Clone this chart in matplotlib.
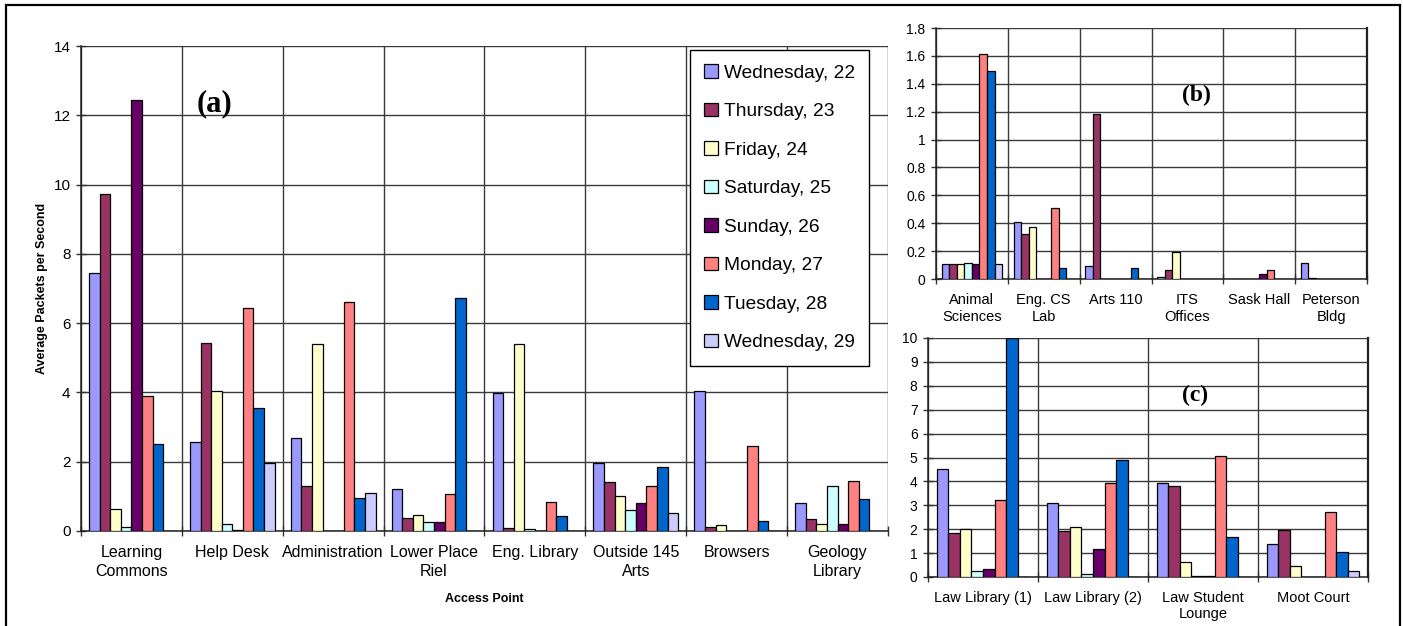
import matplotlib
matplotlib.use("Agg")
import numpy as np
from matplotlib import pyplot as plt
from matplotlib.patches import Patch, Rectangle

# Series (one per day)
days = ["Wednesday, 22", "Thursday, 23", "Friday, 24", "Saturday, 25",
        "Sunday, 26", "Monday, 27", "Tuesday, 28", "Wednesday, 29"]
day_colors = ["#9999FF", "#993366", "#FFFFCC", "#CCFFFF",
              "#660066", "#FF8080", "#0066CC", "#CCCCFF"]

# Panel (a)
cats_a = ["Learning\nCommons", "Help Desk", "Administration", "Lower Place\nRiel",
          "Eng. Library", "Outside 145\nArts", "Browsers", "Geology\nLibrary"]
wed22_a = [7.44, 2.58, 2.68, 1.20, 3.99, 1.95, 4.04, 0.82]
thu23_a = [9.72, 5.44, 1.30, 0.37, 0.08, 1.42, 0.12, 0.34]
fri24_a = [0.63, 4.04, 5.39, 0.46, 5.39, 1.02, 0.17, 0.19]
sat25_a = [0.11, 0.19, 0.00, 0.25, 0.06, 0.61, 0.00, 1.29]
sun26_a = [12.45, 0.02, 0.00, 0.25, 0.00, 0.80, 0.00, 0.19]
mon27_a = [3.91, 6.43, 6.60, 1.07, 0.85, 1.31, 2.45, 1.43]
tue28_a = [2.50, 3.54, 0.94, 6.74, 0.44, 1.86, 0.29, 0.93]
wed29_a = [0.00, 1.97, 1.09, 0.00, 0.00, 0.51, 0.00, 0.00]

# Panel (b)
cats_b = ["Animal\nSciences", "Eng. CS\nLab", "Arts 110", "ITS\nOffices",
          "Sask Hall", "Peterson\nBldg"]
wed22_b = [0.105, 0.41, 0.095, 0.015, 0.0, 0.117]
thu23_b = [0.105, 0.32, 1.18, 0.062, 0.0, 0.01]
fri24_b = [0.105, 0.375, 0.0, 0.196, 0.0, 0.0]
sat25_b = [0.117, 0.0, 0.0, 0.0, 0.0, 0.0]
sun26_b = [0.107, 0.0, 0.0, 0.0, 0.034, 0.0]
mon27_b = [1.61, 0.506, 0.0, 0.0, 0.062, 0.0]
tue28_b = [1.49, 0.077, 0.077, 0.0, 0.0, 0.0]
wed29_b = [0.105, 0.0, 0.0, 0.0, 0.0, 0.0]

# Panel (c)
cats_c = ["Law Library (1)", "Law Library (2)", "Law Student\nLounge", "Moot Court"]
wed22_c = [4.51, 3.10, 3.95, 1.37]
thu23_c = [1.83, 1.92, 3.82, 1.98]
fri24_c = [2.01, 2.11, 0.61, 0.47]
sat25_c = [0.24, 0.14, 0.05, 0.02]
sun26_c = [0.35, 1.17, 0.03, 0.00]
mon27_c = [3.22, 3.95, 5.05, 2.71]
tue28_c = [10.0, 4.88, 1.66, 1.03]
wed29_c = [0.02, 0.00, 0.00, 0.24]

plt.rcParams["font.family"] = ["Liberation Sans", "DejaVu Sans"]

W, H = 1403, 626
fig = plt.figure(figsize=(W / 100, H / 100), dpi=100)


def fax(l, t, r, b):
    # axes box given in pixel coords of the figure
    return fig.add_axes([l / W, 1 - b / H, (r - l) / W, (b - t) / H])


def bar_panel(ax, cats, series, ymax, ystep, yfmt, xfs, yfs, xpad, lsp):
    n = len(cats)
    x = np.arange(n)
    w = 0.84 / len(series)
    for k, vals in enumerate(series):
        ax.bar(x + (k - 3.5) * w, vals, w, color=day_colors[k],
               edgecolor="black", linewidth=0.9, zorder=3)
    ax.set_xlim(-0.5, n - 0.5)
    ax.set_ylim(0, ymax)
    ticks = np.arange(0, ymax + ystep / 2, ystep)
    ax.set_yticks(ticks)
    ax.set_yticklabels([yfmt(v) for v in ticks], fontsize=yfs)
    # category boundaries carry ticks and vertical gridlines
    ax.set_xticks(np.arange(n + 1) - 0.5)
    ax.set_xticklabels([])
    ax.set_xticks(x, minor=True)
    ax.set_xticklabels(cats, minor=True, fontsize=xfs, linespacing=lsp)
    ax.tick_params(axis="x", which="minor", length=0, pad=xpad)
    ax.tick_params(axis="both", which="major", direction="inout", length=7,
                   width=1, color="#333333")
    ax.tick_params(axis="y", which="major", pad=4)
    ax.grid(True, which="major", color="#3a3a3a", linewidth=1, zorder=0)
    ax.set_axisbelow(True)
    for s in ["top", "right"]:
        ax.spines[s].set_visible(False)
    for s in ["left", "bottom"]:
        ax.spines[s].set_color("#222222")
        ax.spines[s].set_linewidth(1.1)


ax_a = fax(81, 46, 888, 531)
bar_panel(ax_a, cats_a,
          [wed22_a, thu23_a, fri24_a, sat25_a, sun26_a, mon27_a, tue28_a, wed29_a],
          14, 2, lambda v: f"{v:g}", 11.5, 11, 10, 1.35)
ax_a.set_ylabel("Average Packets per Second", fontsize=9, fontweight="bold",
                labelpad=4)
ax_a.set_xlabel("Access Point", fontsize=9, fontweight="bold", labelpad=10)
ax_a.text(0.166, 0.88, "(a)", transform=ax_a.transAxes, ha="center", va="center",
          fontsize=22, fontweight="bold", family=["Liberation Serif"])

ax_b = fax(936, 28, 1367, 279)
bar_panel(ax_b, cats_b,
          [wed22_b, thu23_b, fri24_b, sat25_b, sun26_b, mon27_b, tue28_b, wed29_b],
          1.8, 0.2, lambda v: f"{v:.1f}".rstrip("0").rstrip(".") if v else "0",
          10.5, 10, 10, 1.3)
ax_b.spines["right"].set_visible(True)
ax_b.spines["right"].set_color("#222222")
ax_b.spines["right"].set_linewidth(1.6)
ax_b.text(0.604, 0.73, "(b)", transform=ax_b.transAxes, ha="center", va="center",
          fontsize=17, fontweight="bold", family=["Liberation Serif"])

ax_c = fax(928, 338, 1368, 577)
bar_panel(ax_c, cats_c,
          [wed22_c, thu23_c, fri24_c, sat25_c, sun26_c, mon27_c, tue28_c, wed29_c],
          10, 1, lambda v: f"{v:g}", 10.5, 10, 10, 1.2)
ax_c.spines["right"].set_visible(True)
ax_c.spines["right"].set_color("#222222")
ax_c.spines["right"].set_linewidth(1.6)
ax_c.text(0.607, 0.76, "(c)", transform=ax_c.transAxes, ha="center", va="center",
          fontsize=17, fontweight="bold", family=["Liberation Serif"])

# Legend
handles = [Patch(facecolor=c, edgecolor="black", linewidth=0.9) for c in day_colors]
leg = fig.legend(handles, days, loc="upper left",
                 bbox_to_anchor=(690 / W, 1 - 50 / H), borderaxespad=0,
                 fontsize=13.8, handlelength=0.7, handleheight=0.7,
                 handletextpad=0.3, labelspacing=1.1, borderpad=0.75,
                 fancybox=False, edgecolor="black", framealpha=1)
leg.get_frame().set_linewidth(1)

# Outer frame
fig.patches.append(Rectangle((6 / W, -0.05), 1394 / W, 1 - 5 / H + 0.05,
                             transform=fig.transFigure, fill=False,
                             edgecolor="black", linewidth=1.6))

fig.savefig("out.png", dpi=100)
